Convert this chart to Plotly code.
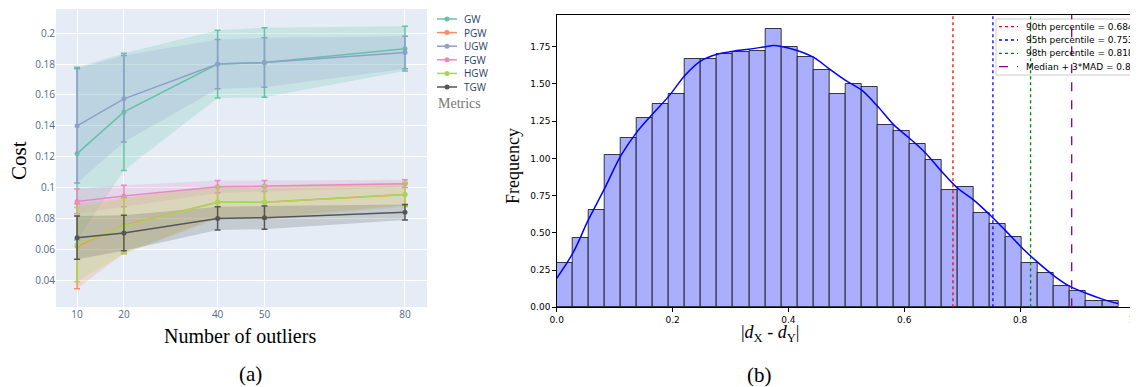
import numpy as np
import plotly.graph_objects as go

# the page body has an 8px margin, so the figure is shrunk by that much and
# every placement below is given in window pixels and converted
OFF = 8
W, H = 1138 - OFF, 387 - OFF

# ---------------- Panel (a) data ----------------
outliers = [10, 20, 40, 50, 80]
metrics = ["GW", "PGW", "UGW", "FGW", "HGW", "TGW"]
colors = ["#66c2a5", "#fc8d62", "#8da0cb", "#e78ac3", "#a6d854", "#555555"]

gw_mean = [0.122, 0.149, 0.180, 0.181, 0.190]
gw_err = [0.056, 0.038, 0.022, 0.0225, 0.0145]
pgw_mean = [0.062, 0.0755, 0.0905, 0.0905, 0.0955]
pgw_err = [0.0275, 0.018, 0.010, 0.010, 0.007]
ugw_mean = [0.140, 0.1575, 0.180, 0.181, 0.1875]
ugw_err = [0.037, 0.028, 0.016, 0.016, 0.0105]
fgw_mean = [0.091, 0.0945, 0.1005, 0.101, 0.1025]
fgw_err = [0.008, 0.007, 0.004, 0.0035, 0.0025]
hgw_mean = [0.063, 0.075, 0.0905, 0.0905, 0.0955]
hgw_err = [0.024, 0.018, 0.0105, 0.011, 0.008]
tgw_mean = [0.0675, 0.0705, 0.080, 0.0805, 0.084]
tgw_err = [0.014, 0.0115, 0.0075, 0.0075, 0.005]

means = [gw_mean, pgw_mean, ugw_mean, fgw_mean, hgw_mean, tgw_mean]
errs = [gw_err, pgw_err, ugw_err, fgw_err, hgw_err, tgw_err]

# ---------------- Panel (b) data ----------------
hist_max = 0.9694
n_bins = 35
freq = [0.30, 0.467, 0.651, 1.025, 1.137, 1.271, 1.367, 1.432, 1.670, 1.667,
        1.701, 1.717, 1.723, 1.867, 1.748, 1.679, 1.592, 1.430, 1.497, 1.482,
        1.222, 1.182, 1.097, 0.991, 0.790, 0.810, 0.635, 0.561, 0.470, 0.298,
        0.228, 0.145, 0.112, 0.044, 0.040]

kde_x = [0.0, 0.028, 0.055, 0.083, 0.111, 0.139, 0.166, 0.194, 0.222, 0.249,
         0.277, 0.305, 0.332, 0.360, 0.374, 0.388, 0.415, 0.443, 0.471, 0.498,
         0.526, 0.554, 0.582, 0.609, 0.637, 0.665, 0.692, 0.720, 0.748, 0.776,
         0.803, 0.831, 0.859, 0.886, 0.914, 0.942, 0.969]
kde_y = [0.195, 0.365, 0.59, 0.80, 1.02, 1.18, 1.30, 1.42, 1.56, 1.655,
         1.70, 1.72, 1.733, 1.75, 1.758, 1.752, 1.725, 1.68, 1.60, 1.525,
         1.46, 1.35, 1.225, 1.135, 1.035, 0.91, 0.80, 0.72, 0.62, 0.51,
         0.40, 0.30, 0.21, 0.14, 0.094, 0.055, 0.025]

thr_labels = ["90th percentile", "95th percentile", "98th percentile", "Median + 3*MAD"]
thr_values = [0.684, 0.753, 0.818, 0.889]
thr_colors = ["red", "blue", "green", "purple"]
thr_dash = ["dot", "dot", "dot", "dash"]


def rgba(hexc, a):
    hexc = hexc.lstrip("#")
    r, g, b = int(hexc[0:2], 16), int(hexc[2:4], 16), int(hexc[4:6], 16)
    return f"rgba({r},{g},{b},{a})"


def px(xp):
    return (xp - OFF) / W


def py(yp):
    return 1 - (yp - OFF) / H


fig = go.Figure()

# bands
for name, col, m, e in zip(metrics, colors, means, errs):
    up = [a + b for a, b in zip(m, e)]
    lo = [a - b for a, b in zip(m, e)]
    fig.add_trace(go.Scatter(
        x=outliers + outliers[::-1], y=up + lo[::-1], fill="toself",
        fillcolor=rgba(col, 0.22), line=dict(width=0), mode="lines",
        hoverinfo="skip", showlegend=False, xaxis="x", yaxis="y"))

# lines with error bars
for name, col, m, e in zip(metrics, colors, means, errs):
    fig.add_trace(go.Scatter(
        x=outliers, y=m, name=name, mode="lines+markers",
        line=dict(color=col, width=1.5), marker=dict(color=col, size=5),
        error_y=dict(type="data", array=e, visible=True, color=col,
                     thickness=1.5, width=3),
        showlegend=False, xaxis="x", yaxis="y"))

# histogram bars
edges = np.linspace(0, hist_max, n_bins + 1)
bw = edges[1] - edges[0]
centers = (edges[:-1] + edges[1:]) / 2
fig.add_trace(go.Bar(
    x=centers, y=freq, width=bw,
    marker=dict(color="rgb(170,174,255)", line=dict(color="rgba(0,0,0,0.75)", width=1)),
    showlegend=False, xaxis="x2", yaxis="y2"))

fig.add_trace(go.Scatter(
    x=kde_x, y=kde_y, mode="lines", line=dict(color="blue", width=1.5, shape="spline"),
    showlegend=False, xaxis="x2", yaxis="y2"))

shapes = []
annotations = []

# background of panel (a)
shapes.append(dict(type="rect", xref="x domain", yref="y domain", x0=0, x1=1, y0=0, y1=1,
                   fillcolor="#E5ECF6", line=dict(width=0), layer="below"))

# legend box for panel (b)
shapes.append(dict(type="rect", xref="paper", yref="paper", x0=px(996), x1=px(1150),
                   y0=py(75), y1=py(19), fillcolor="rgba(255,255,255,0.8)",
                   line=dict(color="#cccccc", width=1), layer="above"))

# threshold lines
for v, c, d in zip(thr_values, thr_colors, thr_dash):
    shapes.append(dict(type="line", xref="x2", yref="y2 domain", x0=v, x1=v, y0=0, y1=1,
                       line=dict(color=c, width=1.3, dash=d), layer="above"))

# legend entries for panel (b)
for i, (lab, v, c, d) in enumerate(zip(thr_labels, thr_values, thr_colors, thr_dash)):
    yp = 26.7 + i * 13.3
    shapes.append(dict(type="line", xref="paper", yref="paper", x0=px(999), x1=px(1018),
                       y0=py(yp), y1=py(yp), line=dict(color=c, width=1.3, dash=d), layer="above"))
    annotations.append(dict(xref="paper", yref="paper", x=px(1024), y=py(yp),
                            xanchor="left", yanchor="middle", showarrow=False,
                            text=f"{lab} = {v:.3f}",
                            font=dict(family="DejaVu Sans", size=9, color="black")))

# legend for panel (a)
for i, (name, col) in enumerate(zip(metrics, colors)):
    yp = 19 + i * 13.6
    shapes.append(dict(type="line", xref="paper", yref="paper", x0=px(437), x1=px(457),
                       y0=py(yp), y1=py(yp), line=dict(color=col, width=1.5)))
    shapes.append(dict(type="circle", xref="paper", yref="paper", x0=px(444.5), x1=px(449.5),
                       y0=py(yp + 2.5), y1=py(yp - 2.5), fillcolor=col, line=dict(width=0)))
    annotations.append(dict(xref="paper", yref="paper", x=px(462), y=py(yp),
                            xanchor="left", yanchor="middle", showarrow=False, text=name,
                            font=dict(family="Open Sans", size=10, color="#2a3f5f")))
annotations.append(dict(xref="paper", yref="paper", x=px(436), y=py(103),
                        xanchor="left", yanchor="middle", showarrow=False, text="Metrics",
                        font=dict(family="Liberation Serif", size=14, color="#777777")))

serif = "Liberation Serif"
# axis titles and panel labels
annotations += [
    dict(xref="paper", yref="paper", x=px(19), y=py(161), text="Cost", textangle=-90,
         showarrow=False, xanchor="center", yanchor="middle",
         font=dict(family=serif, size=21, color="black")),
    dict(xref="paper", yref="paper", x=px(240), y=py(336), text="Number of outliers",
         showarrow=False, xanchor="center", yanchor="middle",
         font=dict(family=serif, size=20, color="black")),
    dict(xref="paper", yref="paper", x=px(250), y=py(374), text="(a)",
         showarrow=False, xanchor="center", yanchor="middle",
         font=dict(family=serif, size=21, color="black")),
    dict(xref="paper", yref="paper", x=px(513), y=py(166), text="Frequency", textangle=-90,
         showarrow=False, xanchor="center", yanchor="middle",
         font=dict(family=serif, size=18, color="black")),
    dict(xref="paper", yref="paper", x=px(770), y=py(333),
         text="|<i>d</i><sub>X</sub> - <i>d</i><sub>Y</sub>|",
         showarrow=False, xanchor="center", yanchor="middle",
         font=dict(family=serif, size=18, color="black")),
    dict(xref="paper", yref="paper", x=px(759), y=py(375), text="(b)",
         showarrow=False, xanchor="center", yanchor="middle",
         font=dict(family=serif, size=21, color="black")),
]

tickfont_a = dict(family="Open Sans", size=10, color="#506784")
tickfont_b = dict(family="DejaVu Sans", size=9, color="black")

fig.update_layout(
    width=W, height=H, margin=dict(l=0, r=0, t=0, b=0, autoexpand=False),
    paper_bgcolor="white", plot_bgcolor="white", showlegend=False,
    bargap=0,
    xaxis=dict(domain=[px(56), px(427)], range=[5.5, 84.7], tickvals=outliers,
               showgrid=True, gridcolor="white", gridwidth=1, zeroline=False,
               showline=False, ticks="", tickfont=tickfont_a, anchor="y", automargin=False),
    yaxis=dict(domain=[py(307), py(9)], range=[0.0226, 0.2157], dtick=0.02, tick0=0,
               showgrid=True, gridcolor="white", gridwidth=1, zeroline=False,
               showline=False, ticks="", tickfont=tickfont_a, anchor="x", automargin=False),
    xaxis2=dict(domain=[px(556.7), min(1.0, px(1136))], range=[0, 1], dtick=0.2, tickformat=".1f",
                showgrid=False, zeroline=False, showline=True, mirror=True,
                linecolor="black", linewidth=1, ticks="outside", ticklen=3.5,
                tickcolor="black", tickfont=tickfont_b, anchor="y2", automargin=False,
                ticklabeloverflow="allow"),
    yaxis2=dict(domain=[py(307.3), py(15)], range=[0, 1.963], dtick=0.25, tickformat=".2f",
                showgrid=False, zeroline=False, showline=True, mirror=True,
                linecolor="black", linewidth=1, ticks="outside", ticklen=3.5,
                tickcolor="black", tickfont=tickfont_b, anchor="x2", automargin=False),
    shapes=shapes, annotations=annotations,
)

fig.write_html("out.html")
